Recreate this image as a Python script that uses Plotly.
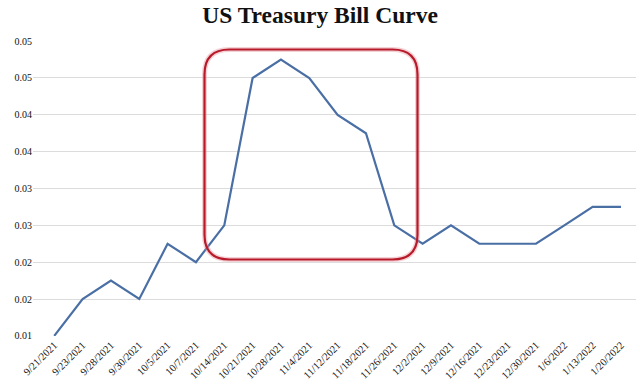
import plotly.graph_objects as go

dates = ["9/21/2021", "9/23/2021", "9/28/2021", "9/30/2021", "10/5/2021", "10/7/2021",
         "10/14/2021", "10/21/2021", "10/28/2021", "11/4/2021", "11/12/2021", "11/18/2021",
         "11/26/2021", "12/2/2021", "12/9/2021", "12/16/2021", "12/23/2021", "12/30/2021",
         "1/6/2022", "1/13/2022", "1/20/2022"]
yields = [0.010, 0.015, 0.0175, 0.015, 0.0225, 0.020,
          0.025, 0.045, 0.0475, 0.045, 0.040, 0.0375,
          0.025, 0.0225, 0.025, 0.0225, 0.0225, 0.0225,
          0.025, 0.0275, 0.0275]
ytick_vals = [0.010, 0.015, 0.020, 0.025, 0.030, 0.035, 0.040, 0.045, 0.050]
ytick_text = ["0.01", "0.02", "0.02", "0.03", "0.03", "0.04", "0.04", "0.05", "0.05"]

W, H = 640, 387
L, R, T, B = 33, 4, 41, 51

fig = go.Figure()
fig.add_trace(go.Scatter(x=list(range(len(dates))), y=yields, mode="lines",
                         line=dict(color="#4a6fa5", width=2.2), hoverinfo="skip"))

# rounded highlight box (paper coords)
pw, ph = W - L - R, H - T - B
def px(x): return (x - L) / pw
def py(y): return (H - B - y) / ph
x0, x1, y0, y1 = px(204.5), px(417.5), py(259.5), py(49.5)
rx, ry = 25 / pw, 25 / ph
path = (f"M {x0+rx},{y1} L {x1-rx},{y1} Q {x1},{y1} {x1},{y1-ry} "
        f"L {x1},{y0+ry} Q {x1},{y0} {x1-rx},{y0} L {x0+rx},{y0} "
        f"Q {x0},{y0} {x0},{y0+ry} L {x0},{y1-ry} Q {x0},{y1} {x0+rx},{y1} Z")
fig.add_shape(type="path", xref="paper", yref="paper", path=path,
              line=dict(color="rgba(225,140,150,0.40)", width=5))
fig.add_shape(type="path", xref="paper", yref="paper", path=path,
              line=dict(color="#b81a2a", width=2.2))

fig.update_layout(
    width=W, height=H,
    margin=dict(l=L, r=R, t=T, b=B, autoexpand=False),
    paper_bgcolor="white", plot_bgcolor="white",
    showlegend=False,
    title=dict(text="<b>US Treasury Bill Curve</b>", x=0.5, xanchor="center",
               y=1 - 15 / H, yanchor="middle",
               font=dict(family="Liberation Serif", size=23.5, color="#111111")),
    font=dict(family="Liberation Serif", color="#111111"),
)
fig.update_xaxes(tickmode="array", tickvals=list(range(len(dates))), ticktext=dates,
                 tickangle=-45, range=[-0.75, 20.53], showgrid=False, zeroline=False,
                 showline=False, ticks="", automargin=False,
                 tickfont=dict(size=10.5, color="#111111"))
fig.update_yaxes(tickmode="array", tickvals=ytick_vals, ticktext=ytick_text,
                 range=[0.00998, 0.05002], showgrid=True, gridcolor="#dcdcdc", gridwidth=1,
                 zeroline=False, showline=False, ticks="", automargin=False,
                 tickfont=dict(size=10, color="#111111"))

fig.write_html("out.html", config={"displayModeBar": False},
               post_script="document.body.style.margin='0';")
